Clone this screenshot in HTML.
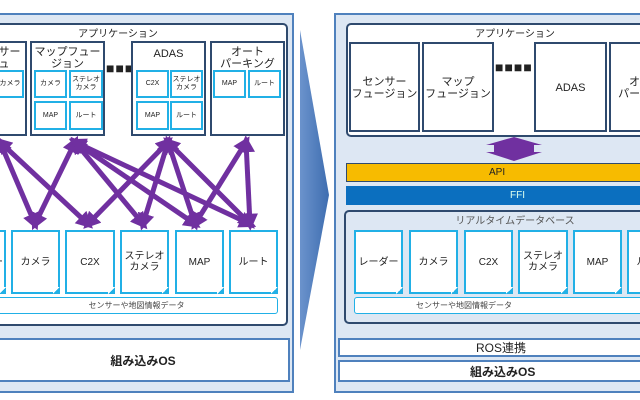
<!DOCTYPE html>
<html><head><meta charset="utf-8"><style>
*{margin:0;padding:0;box-sizing:border-box}
html,body{width:640px;height:400px;overflow:hidden;background:#fff}
#w{position:relative;width:640px;height:400px;overflow:hidden;font-family:"Liberation Sans","Noto Sans CJK JP",sans-serif;color:#222}
.a{position:absolute}
.outer{background:#dde7f3;border:2px solid #4f81bd}
.wb{background:#fff;border:2px solid #2f4a6e;border-radius:5px}
.app{background:#fff;border:2px solid #2f4a6e;font-size:11px;text-align:center;line-height:12px}
.doc{background:#fff;border:2px solid #21b0e6;display:flex;align-items:center;justify-content:center;text-align:center;font-size:10px;line-height:11px}
.doc::after{content:"";position:absolute;right:-2px;bottom:-2px;width:7px;height:7px;background:linear-gradient(135deg,#fff 50%,#21b0e6 50%)}
.sd{background:#fff;border:2px solid #21b0e6;font-size:7px;display:flex;align-items:center;justify-content:center;text-align:center;line-height:8px}
.bar{background:#fff;border:1.5px solid #21b0e6;border-radius:3px;font-size:8px;text-align:center;line-height:15px;color:#444}
.os{background:#fff;border:2px solid #4f81bd;display:flex;align-items:center;justify-content:center;font-size:12px;font-weight:bold}
.t{font-size:10px;text-align:center}
.dots{font-size:14px;font-weight:bold;letter-spacing:1px;line-height:10px}
</style></head><body><div id="w">
<div class="a outer" style="left:-4px;top:13px;width:298px;height:380px"></div>
<div class="a wb" style="left:-6px;top:23px;width:294px;height:303px"></div>
<div class="a t" style="left:60px;top:25px;width:116px">アプリケーション</div>
<div class="a app" style="left:-30px;top:41px;width:57px;height:95px;padding-top:3px">センサーフュ<br>ージョン</div>
<div class="a app" style="left:30px;top:41px;width:75px;height:95px;padding-top:3px">マップフュー<br>ジョン</div>
<div class="a dots" style="left:106px;top:63px">■■■</div>
<div class="a app" style="left:131px;top:41px;width:75px;height:95px;padding-top:5px">ADAS</div>
<div class="a app" style="left:210px;top:41px;width:75px;height:95px;padding-top:3px">オート<br>パーキング</div>
<div class="a sd" style="left:-4px;top:70px;width:28px;height:28px">カメラ</div>
<div class="a sd" style="left:34px;top:70px;width:33px;height:28px">カメラ</div>
<div class="a sd" style="left:69px;top:70px;width:34px;height:28px">ステレオ<br>カメラ</div>
<div class="a sd" style="left:34px;top:101px;width:33px;height:29px">MAP</div>
<div class="a sd" style="left:69px;top:101px;width:34px;height:29px">ルート</div>
<div class="a sd" style="left:136px;top:70px;width:33px;height:28px">C2X</div>
<div class="a sd" style="left:170px;top:70px;width:33px;height:28px">ステレオ<br>カメラ</div>
<div class="a sd" style="left:136px;top:101px;width:33px;height:29px">MAP</div>
<div class="a sd" style="left:170px;top:101px;width:33px;height:29px">ルート</div>
<div class="a sd" style="left:213px;top:70px;width:33px;height:28px">MAP</div>
<div class="a sd" style="left:248px;top:70px;width:33px;height:28px">ルート</div>
<div class="a doc" style="left:-40px;top:230px;width:46px;height:64px">レーダー</div>
<div class="a doc" style="left:11px;top:230px;width:49px;height:64px">カメラ</div>
<div class="a doc" style="left:65px;top:230px;width:50px;height:64px">C2X</div>
<div class="a doc" style="left:120px;top:230px;width:49px;height:64px">ステレオ<br>カメラ</div>
<div class="a doc" style="left:175px;top:230px;width:49px;height:64px">MAP</div>
<div class="a doc" style="left:229px;top:230px;width:49px;height:64px">ルート</div>
<div class="a bar" style="left:-5px;top:297px;width:283px;height:17px">センサーや地図情報データ</div>
<div class="a os" style="left:-4px;top:338px;width:294px;height:44px">組み込みOS</div>
<svg class="a" style="left:0;top:0" width="300" height="240">
<defs><marker id="m" viewBox="0 0 10 10" refX="6" refY="5" markerWidth="3.4" markerHeight="3.4" orient="auto-start-reverse"><path d="M0,0L10,5L0,10z" fill="#7030a0"/></marker></defs>
<g stroke="#7030a0" stroke-width="5" marker-start="url(#m)" marker-end="url(#m)">
<line x1="0" y1="142" x2="35" y2="224"/><line x1="0" y1="142" x2="88" y2="224"/>
<line x1="75" y1="142" x2="35" y2="224"/><line x1="75" y1="142" x2="143" y2="224"/><line x1="75" y1="142" x2="195" y2="224"/><line x1="75" y1="142" x2="250" y2="224"/>
<line x1="168" y1="142" x2="88" y2="224"/><line x1="168" y1="142" x2="143" y2="224"/><line x1="168" y1="142" x2="195" y2="224"/><line x1="168" y1="142" x2="250" y2="224"/>
<line x1="246" y1="142" x2="195" y2="224"/><line x1="246" y1="142" x2="250" y2="224"/>
</g></svg>
<svg class="a" style="left:296px;top:25px" width="40" height="330"><defs><linearGradient id="g" x1="0" x2="1"><stop offset="0" stop-color="#6b93cc"/><stop offset="1" stop-color="#3e6db0"/></linearGradient></defs><path d="M4,5L33,170L4,325z" fill="url(#g)"/></svg>
<div class="a outer" style="left:334px;top:13px;width:320px;height:380px"></div>
<div class="a wb" style="left:346px;top:23px;width:310px;height:114px"></div>
<div class="a t" style="left:455px;top:25px;width:120px">アプリケーション</div>
<div class="a app" style="left:349px;top:42px;width:71px;height:90px;padding-top:32px">センサー<br>フュージョン</div>
<div class="a app" style="left:422px;top:42px;width:72px;height:90px;padding-top:32px">マップ<br>フュージョン</div>
<div class="a dots" style="left:495px;top:62px">■■■■</div>
<div class="a app" style="left:534px;top:42px;width:73px;height:90px;padding-top:38px">ADAS</div>
<div class="a app" style="left:609px;top:42px;width:73px;height:90px;padding-top:32px">オート<br>パーキング</div>
<svg class="a" style="left:484px;top:136px" width="62" height="26"><path d="M2,9L30,1L58,9L50,9L50,16L58,16L30,25L2,16L10,16L10,9z" fill="#7030a0"/></svg>
<div class="a" style="left:346px;top:163px;width:300px;height:19px;background:#f7bb00;border:1px solid #2f4a6e;font-size:10px;line-height:17px;text-indent:142px">API</div>
<div class="a" style="left:346px;top:186px;width:300px;height:19px;background:#0b6fbf;color:#dfe;font-size:10px;line-height:19px;text-indent:164px">FFI</div>
<div class="a wb" style="left:344px;top:210px;width:310px;height:114px;background:#dde7f3"></div>
<div class="a t" style="left:440px;top:212px;width:150px;color:#555;font-size:10px">リアルタイムデータベース</div>
<div class="a doc" style="left:354px;top:230px;width:49px;height:64px">レーダー</div>
<div class="a doc" style="left:409px;top:230px;width:49px;height:64px">カメラ</div>
<div class="a doc" style="left:464px;top:230px;width:49px;height:64px">C2X</div>
<div class="a doc" style="left:518px;top:230px;width:50px;height:64px">ステレオ<br>カメラ</div>
<div class="a doc" style="left:573px;top:230px;width:49px;height:64px">MAP</div>
<div class="a doc" style="left:627px;top:230px;width:49px;height:64px">ルート</div>
<div class="a bar" style="left:354px;top:297px;width:290px;height:17px;text-indent:-70px">センサーや地図情報データ</div>
<div class="a os" style="left:338px;top:338px;width:310px;height:19px;font-weight:normal;justify-content:flex-start;padding-left:136px">ROS連携</div>
<div class="a os" style="left:338px;top:360px;width:310px;height:22px;justify-content:flex-start;padding-left:130px">組み込みOS</div>
</div></body></html>
